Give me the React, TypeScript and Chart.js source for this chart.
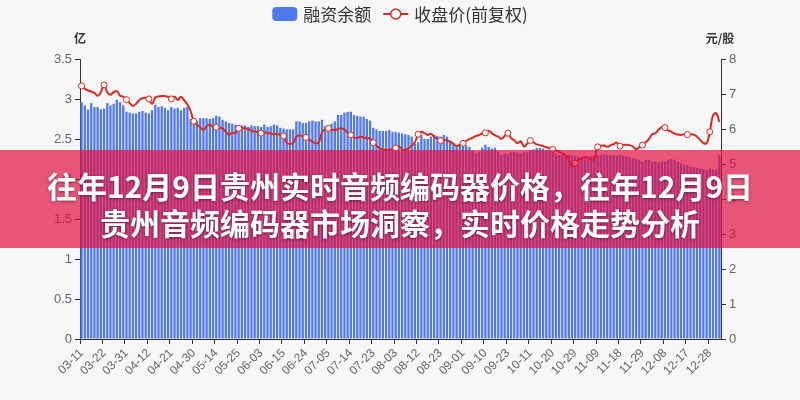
import React, { useEffect, useRef } from "react";
import { Chart, registerables } from "chart.js";

Chart.register(...registerables);

const dates: string[] = [
  "03-11","03-12","03-15","03-16","03-17","03-18","03-19","03-22","03-23","03-24","03-25","03-26","03-29","03-30","03-31",
  "04-01","04-02","04-06","04-07","04-08","04-09","04-12","04-13","04-14","04-15","04-16","04-19","04-20","04-21","04-22","04-23","04-26","04-27","04-28","04-29","04-30",
  "05-06","05-07","05-10","05-11","05-12","05-13","05-14","05-17","05-18","05-19","05-20","05-21","05-24","05-25","05-26","05-27","05-28","05-31",
  "06-01","06-02","06-03","06-04","06-07","06-08","06-09","06-10","06-11","06-15","06-16","06-17","06-18","06-21","06-22","06-23","06-24","06-25","06-28","06-29","06-30",
  "07-01","07-02","07-05","07-06","07-07","07-08","07-09","07-12","07-13","07-14","07-15","07-16","07-19","07-20","07-21","07-22","07-23","07-26","07-27","07-28","07-29","07-30",
  "08-02","08-03","08-04","08-05","08-06","08-09","08-10","08-11","08-12","08-13","08-16","08-17","08-18","08-19","08-20","08-23","08-24","08-25","08-26","08-27","08-30","08-31",
  "09-01","09-02","09-03","09-06","09-07","09-08","09-09","09-10","09-13","09-14","09-15","09-16","09-17","09-22","09-23","09-24","09-27","09-28","09-29","09-30",
  "10-08","10-11","10-12","10-13","10-14","10-15","10-18","10-19","10-20","10-21","10-22","10-25","10-26","10-27","10-28","10-29",
  "11-01","11-02","11-03","11-04","11-05","11-08","11-09","11-10","11-11","11-12","11-15","11-16","11-17","11-18","11-19","11-22","11-23","11-24","11-25","11-26","11-29","11-30",
  "12-01","12-02","12-03","12-06","12-07","12-08","12-09","12-10","12-13","12-14","12-15","12-16","12-17","12-20","12-21","12-22","12-23","12-24","12-27","12-28","12-29","12-30","12-31",
];

// 融资余额 (亿)
const marginBalance: number[] = [
  2.96,2.92,2.87,2.95,2.90,2.90,2.87,2.88,2.95,2.92,2.94,2.99,2.96,2.92,2.84,2.83,2.82,2.82,2.84,2.85,
  2.83,2.82,2.86,2.93,2.90,2.91,2.89,2.86,2.90,2.88,2.89,2.86,2.89,2.90,2.75,2.74,2.73,2.76,2.76,2.76,
  2.75,2.76,2.79,2.78,2.74,2.72,2.70,2.69,2.68,2.67,2.67,2.67,2.65,2.67,2.66,2.66,2.65,2.68,2.65,2.66,
  2.68,2.67,2.64,2.63,2.62,2.62,2.62,2.72,2.72,2.70,2.70,2.72,2.73,2.72,2.72,2.74,2.66,2.66,2.69,2.72,
  2.80,2.80,2.83,2.84,2.84,2.80,2.79,2.78,2.78,2.75,2.73,2.64,2.62,2.60,2.60,2.60,2.61,2.59,2.59,2.58,
  2.57,2.56,2.55,2.53,2.44,2.46,2.55,2.50,2.50,2.53,2.55,2.54,2.53,2.55,2.53,2.48,2.44,2.40,2.42,2.43,
  2.42,2.40,2.35,2.32,2.34,2.39,2.43,2.40,2.38,2.39,2.34,2.30,2.32,2.31,2.33,2.34,2.33,2.32,2.34,2.34,
  2.36,2.37,2.39,2.39,2.38,2.36,2.36,2.35,2.32,2.30,2.30,2.30,2.30,2.29,2.29,2.28,2.26,2.26,2.28,2.29,
  2.29,2.30,2.30,2.31,2.30,2.30,2.30,2.29,2.30,2.29,2.28,2.27,2.26,2.25,2.24,2.22,2.24,2.24,2.22,2.22,
  2.21,2.22,2.22,2.24,2.25,2.24,2.22,2.20,2.18,2.17,2.15,2.15,2.14,2.13,2.12,2.11,2.13,2.12,2.12,2.30,
];

// 收盘价(前复权) (元/股)
const closePrice: number[] = [
  7.23,7.15,7.10,7.07,7.03,6.95,7.05,7.26,7.05,6.98,7.05,7.08,6.95,6.92,6.84,6.74,6.66,6.72,6.83,6.88,
  6.89,6.86,6.72,6.90,6.93,6.94,6.94,6.92,6.86,6.93,6.83,6.92,6.82,6.70,6.52,6.22,6.12,6.05,5.97,6.08,
  6.12,6.07,6.05,6.04,6.02,5.92,5.83,5.90,5.88,6.02,6.03,6.02,6.00,5.95,5.93,5.90,5.88,5.90,5.89,5.87,
  5.85,5.86,5.83,5.80,5.60,5.57,5.60,5.78,5.82,5.79,5.76,5.70,5.64,5.59,5.62,5.90,6.00,6.02,5.98,5.97,
  6.00,6.02,5.98,5.90,5.83,5.76,5.74,5.78,5.76,5.74,5.73,5.61,5.52,5.45,5.42,5.40,5.41,5.43,5.45,5.50,
  5.42,5.40,5.45,5.52,5.62,5.85,5.92,5.88,5.83,5.86,5.78,5.72,5.67,5.69,5.67,5.64,5.58,5.51,5.55,5.59,
  5.66,5.71,5.75,5.80,5.83,5.87,5.89,5.95,5.88,5.82,5.78,5.72,5.80,5.88,5.74,5.68,5.59,5.65,5.50,5.58,
  5.67,5.62,5.56,5.54,5.51,5.48,5.45,5.42,5.39,5.35,5.30,5.25,5.12,4.93,5.02,5.12,5.16,5.20,5.18,5.13,
  5.14,5.49,5.52,5.53,5.49,5.53,5.57,5.61,5.51,5.54,5.55,5.54,5.50,5.42,5.48,5.54,5.62,5.71,5.85,5.88,
  5.98,6.05,6.04,5.96,5.92,5.87,5.84,5.83,5.85,5.84,5.85,5.84,5.78,5.69,5.60,5.59,5.92,6.38,6.45,6.20,
];

const leftTicks = ["0", "0.5", "1", "1.5", "2", "2.5", "3", "3.5"];
const rightTicks = ["0", "1", "2", "3", "4", "5", "6", "7", "8"];

const seriesNames = ["融资余额", "收盘价(前复权)"];
const axisNames = ["亿", "元/股"];
const bannerLines = ["往年12月9日贵州实时音频编码器价格，往年12月9日", "贵州音频编码器市场洞察，实时价格走势分析"];

const FONT = '"Noto Sans CJK SC", "Noto Sans", sans-serif';
const NUM_FONT = '"Liberation Sans", Arial, sans-serif';
const BAR_COLOR = "#5079ee";
const LINE_COLOR = "#dc2a20";
const LABEL_EVERY = 7;

const overlayPlugin = {
  id: "overlayPlugin",
  afterDraw(chart: any) {
    const ctx = chart.ctx as CanvasRenderingContext2D;
    const area = chart.chartArea;
    ctx.save();
    // axis names
    ctx.fillStyle = "#333";
    ctx.font = `bold 12px ${FONT}`;
    ctx.textAlign = "center";
    ctx.textBaseline = "middle";
    ctx.fillText(axisNames[0], area.left, 38);
    ctx.fillText(axisNames[1], area.right - 1, 38);

    // legend
    ctx.font = `17px ${FONT}`;
    const w1 = ctx.measureText(seriesNames[0]).width;
    const w2 = ctx.measureText(seriesNames[1]).width;
    const boxW = 25;
    const total = boxW + 6 + w1 + 12 + boxW + 6 + w2;
    let x = 400 - total / 2;
    const cy = 14;
    ctx.fillStyle = BAR_COLOR;
    ctx.beginPath();
    (ctx as any).roundRect(x, cy - 7, boxW, 14, 4);
    ctx.fill();
    x += boxW + 6;
    ctx.fillStyle = "#333";
    ctx.textAlign = "left";
    ctx.fillText(seriesNames[0], x, cy + 1);
    x += w1 + 12;
    ctx.strokeStyle = LINE_COLOR;
    ctx.lineWidth = 2;
    ctx.beginPath();
    ctx.moveTo(x, cy);
    ctx.lineTo(x + boxW, cy);
    ctx.stroke();
    ctx.beginPath();
    ctx.arc(x + boxW / 2, cy, 5, 0, Math.PI * 2);
    ctx.fillStyle = "#fff";
    ctx.fill();
    ctx.lineWidth = 1.5;
    ctx.stroke();
    x += boxW + 6;
    ctx.fillStyle = "#333";
    ctx.fillText(seriesNames[1], x, cy + 1);
    ctx.restore();
  },
};

export default function App() {
  const canvasRef = useRef<HTMLCanvasElement | null>(null);

  useEffect(() => {
    if (!canvasRef.current) return;
    const chart = new Chart(canvasRef.current, {
      type: "bar",
      data: {
        labels: dates,
        datasets: [
          {
            type: "line",
            label: seriesNames[1],
            data: closePrice,
            yAxisID: "y1",
            borderColor: LINE_COLOR,
            backgroundColor: LINE_COLOR,
            borderWidth: 2,
            tension: 0.4,
            pointRadius: (c: any) => (c.dataIndex % LABEL_EVERY === 0 ? 3 : 0),
            pointBackgroundColor: "#fff",
            pointBorderColor: LINE_COLOR,
            pointBorderWidth: 1,
            order: 1,
          } as any,
          {
            type: "bar",
            label: seriesNames[0],
            data: marginBalance,
            yAxisID: "y",
            backgroundColor: BAR_COLOR,
            barPercentage: 0.72,
            categoryPercentage: 1,
            order: 2,
          },
        ],
      },
      options: {
        responsive: false,
        animation: false,
        layout: { padding: { top: 59, left: 0, right: 0, bottom: 0 } },
        plugins: { legend: { display: false }, tooltip: { enabled: false } },
        scales: {
          x: {
            offset: true,
            afterFit: (s: any) => { s.height = 61; },
            grid: {
              offset: true,
              drawOnChartArea: false,
              drawTicks: true,
              tickLength: 5,
              tickColor: (c: any) => (c.index % LABEL_EVERY === 0 ? "#333" : "rgba(0,0,0,0)"),
            },
            border: { display: true, color: "#333", width: 1 },
            ticks: {
              autoSkip: false,
              minRotation: 45,
              maxRotation: 45,
              padding: 2,
              color: "#666",
              font: { size: 12, family: NUM_FONT },
              callback: (_v: any, i: number) => (i % LABEL_EVERY === 0 ? dates[i] : ""),
            },
          },
          y: {
            position: "left",
            min: 0,
            max: 3.5,
            afterFit: (s: any) => { s.width = 80; },
            grid: { drawOnChartArea: false, drawTicks: true, tickLength: 5, tickColor: "#333" },
            border: { display: true, color: "#333", width: 1 },
            ticks: {
              stepSize: 0.5,
              padding: 3,
              color: "#666",
              font: { size: 13, family: NUM_FONT },
              callback: (_v: any, i: number) => leftTicks[i],
            },
          },
          y1: {
            position: "right",
            min: 0,
            max: 8,
            afterFit: (s: any) => { s.width = 79; },
            grid: { drawOnChartArea: false, drawTicks: true, tickLength: 5, tickColor: "#333" },
            border: { display: true, color: "#333", width: 1 },
            ticks: {
              stepSize: 1,
              padding: 3,
              color: "#666",
              font: { size: 13, family: NUM_FONT },
              callback: (_v: any, i: number) => rightTicks[i],
            },
          },
        },
      } as any,
      plugins: [overlayPlugin],
    });
    return () => chart.destroy();
  }, []);

  return (
    <div
      style={{
        position: "fixed",
        left: 0,
        top: 0,
        width: 800,
        height: 400,
        background: "#f7f7f7",
        overflow: "hidden",
      }}
    >
      <canvas ref={canvasRef} width={800} height={400} style={{ display: "block", width: 800, height: 400 }} />
      <div
        style={{
          position: "absolute",
          left: 0,
          top: 150,
          width: 800,
          height: 98,
          boxSizing: "border-box",
          paddingTop: 9,
          background: "rgba(225,16,66,0.7)",
          display: "flex",
          flexDirection: "column",
          alignItems: "center",
          justifyContent: "center",
          color: "#fff",
          fontFamily: FONT,
          fontWeight: 700,
          fontSize: 30,
          lineHeight: "37px",
          textShadow: "0 1px 3px rgba(0,0,0,0.45)",
          whiteSpace: "nowrap",
        }}
      >
        {bannerLines.map((t) => (
          <div key={t}>{t}</div>
        ))}
      </div>
    </div>
  );
}
